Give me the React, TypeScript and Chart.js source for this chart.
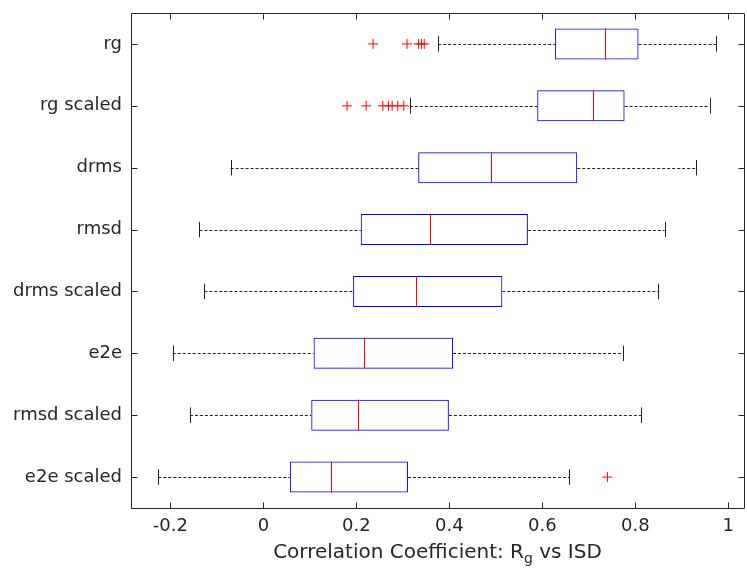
import React, { useEffect, useRef } from "react";
import { Chart, registerables } from "chart.js";

Chart.register(...registerables);

const categories = ["rg", "rg scaled", "drms", "rmsd", "drms scaled", "e2e", "rmsd scaled", "e2e scaled"];
const q1 = [0.627, 0.589, 0.333, 0.2095, 0.193, 0.108, 0.103, 0.057];
const q3 = [0.807, 0.777, 0.675, 0.569, 0.514, 0.408, 0.399, 0.311];
const medians = [0.735, 0.708, 0.4895, 0.3585, 0.329, 0.2155, 0.2025, 0.145];
const whiskerLow = [0.376, 0.315, -0.0705, -0.1375, -0.127, -0.195, -0.158, -0.226];
const whiskerHigh = [0.9735, 0.96, 0.931, 0.863, 0.8495, 0.7745, 0.8125, 0.658];
const outliersRg = [0.236, 0.309, 0.334, 0.34, 0.346];
const outliersRgScaled = [0.18, 0.221, 0.257, 0.269, 0.277, 0.289, 0.302];
const outliersE2eScaled = [0.74];
const xTickValues = [-0.2, 0, 0.2, 0.4, 0.6, 0.8, 1];
const xTickLabels = ["-0.2", "0", "0.2", "0.4", "0.6", "0.8", "1"];
const xMin = -0.2847;
const xMax = 1.0338;

const FONT = "'DejaVu Sans', sans-serif";
const TEXT = "#262626";

const boxPlugin = {
  id: "boxExtras",
  afterDatasetsDraw(chart: any) {
    const ctx = chart.ctx;
    const xs = chart.scales.x;
    const ys = chart.scales.y;
    const meta = chart.getDatasetMeta(0);
    ctx.save();
    categories.forEach((_, i) => {
      const y = ys.getPixelForValue(i);
      const el = meta.data[i];
      const half = el ? el.height / 2 : 15;
      const cap = half / 2;
      ctx.strokeStyle = "#222";
      ctx.lineWidth = 1;
      ctx.setLineDash([3, 2]);
      const yy = Math.round(y) + 0.5;
      ctx.beginPath();
      ctx.moveTo(xs.getPixelForValue(whiskerLow[i]), yy);
      ctx.lineTo(xs.getPixelForValue(q1[i]), yy);
      ctx.moveTo(xs.getPixelForValue(q3[i]), yy);
      ctx.lineTo(xs.getPixelForValue(whiskerHigh[i]), yy);
      ctx.stroke();
      ctx.setLineDash([]);
      ctx.beginPath();
      const xl = Math.round(xs.getPixelForValue(whiskerLow[i])) + 0.5;
      const xh = Math.round(xs.getPixelForValue(whiskerHigh[i])) + 0.5;
      ctx.moveTo(xl, y - cap);
      ctx.lineTo(xl, y + cap);
      ctx.moveTo(xh, y - cap);
      ctx.lineTo(xh, y + cap);
      ctx.stroke();
      const xm = Math.round(xs.getPixelForValue(medians[i])) + 0.5;
      ctx.strokeStyle = "#ff0000";
      ctx.beginPath();
      ctx.moveTo(xm, y - half);
      ctx.lineTo(xm, y + half);
      ctx.stroke();
    });
    ctx.restore();
  },
  afterDraw(chart: any) {
    const ctx = chart.ctx;
    const a = chart.chartArea;
    const xs = chart.scales.x;
    const ys = chart.scales.y;
    const L = Math.round(a.left) + 0.5;
    const R = Math.round(a.right) + 0.5;
    const T = Math.round(a.top) + 0.5;
    const B = Math.round(a.bottom) + 0.5;
    ctx.save();
    ctx.strokeStyle = TEXT;
    ctx.lineWidth = 1;
    ctx.beginPath();
    ctx.rect(L, T, R - L, B - T);
    xTickValues.forEach((v) => {
      const x = Math.round(xs.getPixelForValue(v)) + 0.5;
      ctx.moveTo(x, B);
      ctx.lineTo(x, B - 6);
      ctx.moveTo(x, T);
      ctx.lineTo(x, T + 6);
    });
    categories.forEach((_, i) => {
      const y = Math.round(ys.getPixelForValue(i)) + 0.5;
      ctx.moveTo(L, y);
      ctx.lineTo(L + 6, y);
      ctx.moveTo(R, y);
      ctx.lineTo(R - 6, y);
    });
    ctx.stroke();
    const p1 = "Correlation Coefficient: R";
    const sub = "g";
    const p2 = " vs ISD";
    ctx.fillStyle = TEXT;
    ctx.textBaseline = "alphabetic";
    ctx.textAlign = "left";
    ctx.font = `20px ${FONT}`;
    const w1 = ctx.measureText(p1).width;
    const w2 = ctx.measureText(p2).width;
    ctx.font = `14px ${FONT}`;
    const ws = ctx.measureText(sub).width;
    const total = w1 + ws + w2;
    const cx = (a.left + a.right) / 2;
    let x = cx - total / 2;
    const base = 558;
    ctx.font = `20px ${FONT}`;
    ctx.fillText(p1, x, base);
    x += w1;
    ctx.font = `14px ${FONT}`;
    ctx.fillText(sub, x, base + 5);
    x += ws;
    ctx.font = `20px ${FONT}`;
    ctx.fillText(p2, x, base);
    ctx.restore();
  },
};

export default function App() {
  const ref = useRef<HTMLCanvasElement>(null);
  useEffect(() => {
    if (!ref.current) return;
    const outlierData = [
      ...outliersRg.map((v) => ({ x: v, y: categories[0] })),
      ...outliersRgScaled.map((v) => ({ x: v, y: categories[1] })),
      ...outliersE2eScaled.map((v) => ({ x: v, y: categories[7] })),
    ];
    const chart = new Chart(ref.current, {
      type: "bar",
      data: {
        labels: categories,
        datasets: [
          {
            type: "bar",
            data: categories.map((_, i) => [q1[i], q3[i]]) as any,
            backgroundColor: "rgba(0,0,0,0)",
            borderColor: "#0000ff",
            borderWidth: 1,
            borderSkipped: false,
            barPercentage: 0.5,
            categoryPercentage: 1,
          } as any,
          {
            type: "scatter",
            data: outlierData as any,
            pointStyle: "cross",
            pointRadius: 5,
            pointBorderColor: "#ff0000",
            pointBackgroundColor: "#ff0000",
            pointBorderWidth: 1,
            showLine: false,
            xAxisID: "x",
            yAxisID: "y",
          } as any,
        ],
      },
      options: {
        animation: false,
        responsive: false,
        indexAxis: "y",
        layout: { padding: { top: 13, right: 0, left: 0, bottom: 0 } },
        plugins: { legend: { display: false }, tooltip: { enabled: false } },
        scales: {
          x: {
            type: "linear",
            min: xMin,
            max: xMax,
            grid: { display: false, drawTicks: false },
            border: { display: false },
            afterBuildTicks: (scale: any) => {
              scale.ticks = xTickValues.map((v) => ({ value: v }));
            },
            afterFit: (scale: any) => {
              scale.height = 63;
              scale.paddingLeft = 0;
              scale.paddingRight = 0;
            },
            ticks: {
              autoSkip: false,
              maxRotation: 0,
              padding: 8,
              color: TEXT,
              font: { family: FONT, size: 18 },
              callback: (_v: any, i: number) => xTickLabels[i],
            },
          },
          y: {
            type: "category",
            offset: true,
            grid: { display: false, drawTicks: false },
            border: { display: false },
            afterFit: (scale: any) => {
              scale.width = 131;
              scale.paddingTop = 0;
              scale.paddingBottom = 0;
            },
            ticks: {
              padding: 9,
              color: TEXT,
              font: { family: FONT, size: 18 },
            },
          },
        },
      } as any,
      plugins: [boxPlugin],
    });
    return () => chart.destroy();
  }, []);
  return (
    <div style={{ position: "absolute", left: 0, top: 0, width: 747, height: 571, overflow: "hidden", background: "#fff" }}>
      <canvas ref={ref} width={750} height={571} style={{ display: "block" }} />
    </div>
  );
}
